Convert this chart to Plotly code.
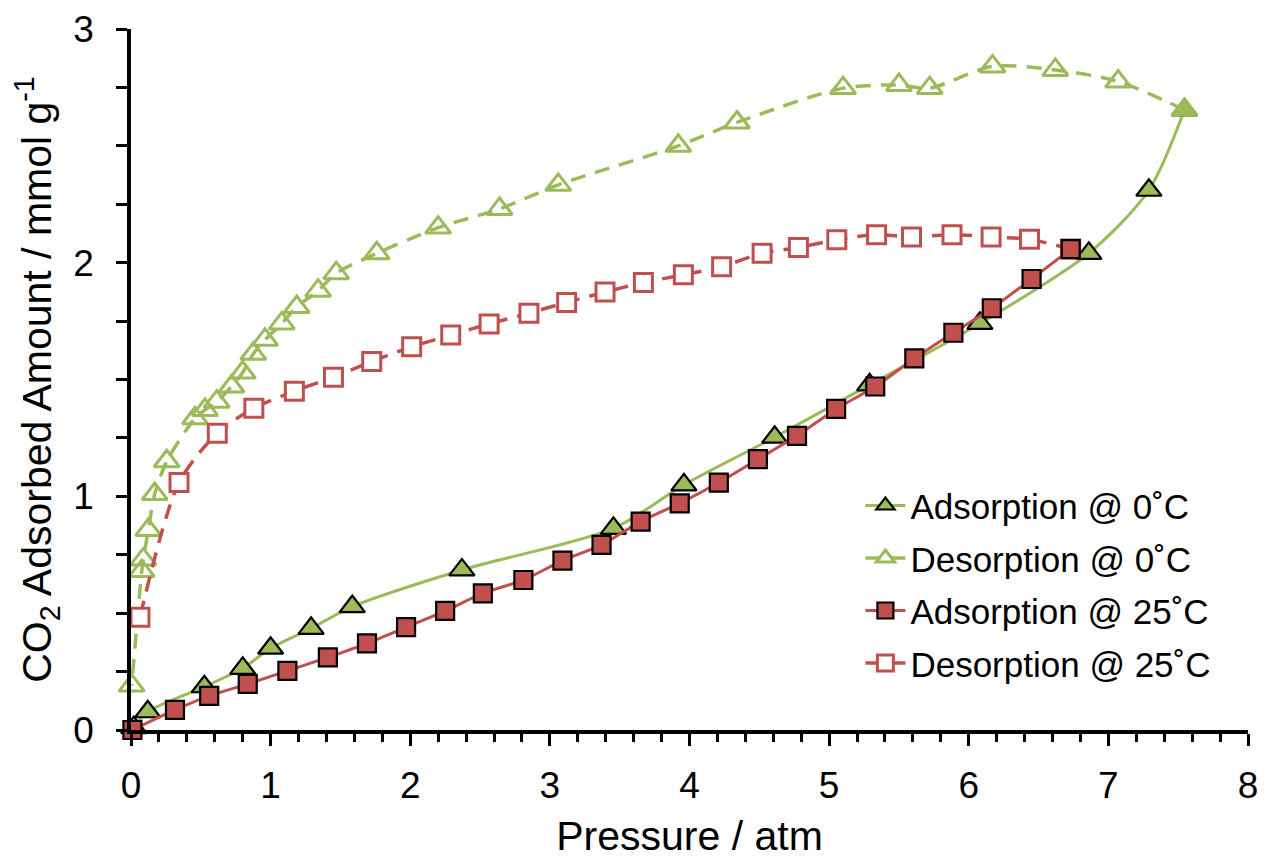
import plotly.graph_objects as go

# ---------------- data ----------------
ads0_x = [0.02, 0.12, 0.525, 0.80, 1.00, 1.29, 1.585, 2.37, 3.455, 3.96, 4.61, 5.29, 6.08, 6.86, 7.29, 7.545]
ads0_y = [0.01, 0.078, 0.185, 0.264, 0.35, 0.435, 0.528, 0.685, 0.863, 1.049, 1.253, 1.477, 1.74, 2.04, 2.31, 2.654]

des0_x = [7.545, 7.07, 6.62, 6.17, 5.72, 5.50, 5.10, 4.34, 3.92, 3.06, 2.64, 2.20, 1.76, 1.47, 1.34, 1.187,
          1.08, 0.96, 0.876, 0.80, 0.72, 0.614, 0.53, 0.458, 0.256, 0.17, 0.124, 0.088, 0.077, 0.005]
des0_y = [2.654, 2.775, 2.825, 2.84, 2.747, 2.76, 2.747, 2.60, 2.50, 2.333, 2.23, 2.15, 2.04, 1.955, 1.88, 1.81,
          1.74, 1.67, 1.61, 1.53, 1.47, 1.405, 1.37, 1.334, 1.15, 1.01, 0.856, 0.73, 0.68, 0.19]

ads25_x = [0.01, 0.315, 0.56, 0.836, 1.12, 1.41, 1.69, 1.97, 2.25, 2.52, 2.81, 3.09, 3.37, 3.65, 3.93,
           4.21, 4.49, 4.77, 5.05, 5.33, 5.61, 5.89, 6.165, 6.45, 6.73]
ads25_y = [0.0, 0.086, 0.146, 0.197, 0.253, 0.311, 0.371, 0.44, 0.51, 0.585, 0.642, 0.725, 0.792, 0.892, 0.97,
           1.059, 1.159, 1.259, 1.374, 1.47, 1.59, 1.70, 1.805, 1.93, 2.058]

des25_x = [6.73, 6.435, 6.16, 5.88, 5.59, 5.34, 5.055, 4.78, 4.52, 4.23, 3.956, 3.67, 3.395, 3.12, 2.85,
           2.565, 2.29, 2.01, 1.724, 1.45, 1.17, 0.88, 0.618, 0.344, 0.064]
des25_y = [2.058, 2.10, 2.11, 2.12, 2.11, 2.12, 2.098, 2.065, 2.04, 1.983, 1.948, 1.915, 1.874, 1.83, 1.784,
           1.738, 1.69, 1.64, 1.577, 1.51, 1.45, 1.377, 1.27, 1.059, 0.482]

names = ["Adsorption @ 0˚C", "Desorption @ 0˚C", "Adsorption @ 25˚C", "Desorption @ 25˚C"]
x_ticks = [0, 1, 2, 3, 4, 5, 6, 7, 8]
y_ticks = [0, 1, 2, 3]

GREEN = "#9BBB59"
RED = "#C0504D"
FONT = "Liberation Sans, Arial, Helvetica, sans-serif"

fig = go.Figure()

fig.add_trace(go.Scatter(
    x=ads0_x, y=ads0_y, name=names[0], mode="lines+markers", legendrank=1, legendgroup="a",
    line=dict(color=GREEN, width=3, shape="spline", smoothing=0.8),
    marker=dict(symbol="triangle-up", size=22, color=GREEN, line=dict(color="black", width=2.2)),
    cliponaxis=False,
))
fig.add_trace(go.Scatter(
    x=des0_x, y=des0_y, name=names[1], mode="lines+markers", legendrank=2, legendgroup="b",
    line=dict(color=GREEN, width=3.5, dash="15px,10px", shape="spline", smoothing=0.8),
    marker=dict(symbol="triangle-up-open", size=22, color=GREEN, line=dict(color=GREEN, width=3)),
    cliponaxis=False,
))
fig.add_trace(go.Scatter(
    x=des25_x, y=des25_y, name=names[3], mode="lines+markers", legendrank=4, legendgroup="d",
    line=dict(color=RED, width=3.5, dash="15px,10px", shape="spline", smoothing=0.8),
    marker=dict(symbol="square", size=18, color="white", line=dict(color=RED, width=3)),
    cliponaxis=False,
))
fig.add_trace(go.Scatter(
    x=ads25_x, y=ads25_y, name=names[2], mode="lines+markers", legendrank=3, legendgroup="c",
    line=dict(color=RED, width=3, shape="spline", smoothing=0.8),
    marker=dict(symbol="square", size=18, color=RED, line=dict(color="black", width=2.2)),
    cliponaxis=False,
))

fig.update_layout(
    width=1259, height=851,
    margin=dict(l=123, r=19, t=21, b=129, autoexpand=False),
    paper_bgcolor="white", plot_bgcolor="white",
    font=dict(family=FONT, color="black"),
    showlegend=True,
    legend=dict(
        x=0.653, y=0.362, xanchor="left", yanchor="top",
        font=dict(size=35, family=FONT, color="black"),
        bgcolor="rgba(0,0,0,0)", tracegroupgap=4, itemwidth=40,
    ),
)

fig.update_xaxes(
    range=[0, 8], tickvals=x_ticks, ticktext=[str(v) for v in x_ticks],
    showgrid=False, zeroline=False,
    showline=True, linecolor="black", linewidth=3.5,
    ticks="outside", ticklen=12, tickwidth=2.5, tickcolor="black",
    tickfont=dict(size=37, family=FONT), ticklabelstandoff=8,
    minor=dict(dtick=0.2, ticks="outside", ticklen=8, tickwidth=2.5, tickcolor="black", showgrid=False),
    title=dict(text="Pressure / atm", font=dict(size=41, family=FONT), standoff=32),
)
fig.update_yaxes(
    range=[0, 3], tickvals=y_ticks, ticktext=[str(v) for v in y_ticks],
    showgrid=False, zeroline=False,
    showline=True, linecolor="black", linewidth=3.5,
    ticks="outside", ticklen=11, tickwidth=2.5, tickcolor="black",
    tickfont=dict(size=37, family=FONT), ticklabelstandoff=15,
    minor=dict(dtick=0.25, ticks="outside", ticklen=11, tickwidth=2.5, tickcolor="black", showgrid=False),
    title=dict(text="CO<sub>2</sub> Adsorbed Amount / mmol g<sup>-1</sup>", font=dict(size=41, family=FONT), standoff=44),
)

fig.write_html("out.html")
